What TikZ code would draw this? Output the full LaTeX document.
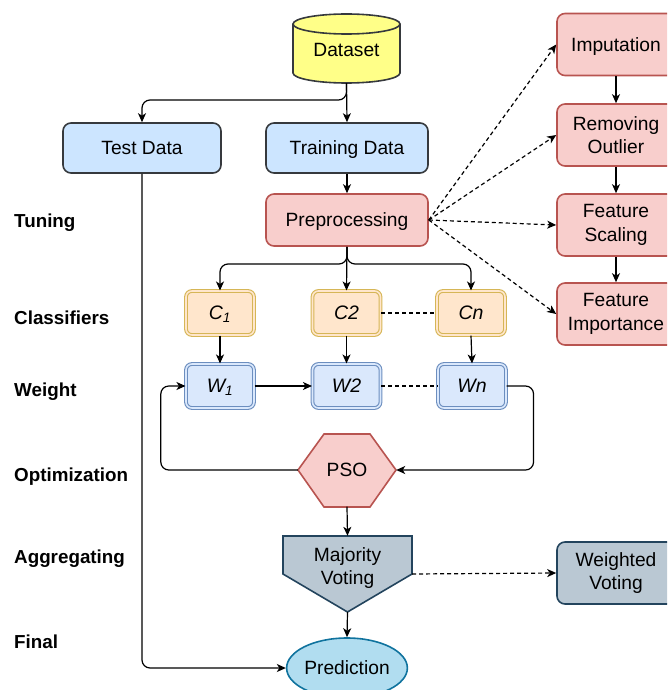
\documentclass[tikz,border=0pt]{standalone}
\usepackage{fontspec}
\setmainfont{Liberation Sans}
\usetikzlibrary{arrows.meta,shapes.geometric}
\definecolor{dsfill}{HTML}{FFFF88}
\definecolor{dkline}{HTML}{36393D}
\definecolor{bluefill}{HTML}{CCE5FF}
\definecolor{redfill}{HTML}{F8CECC}
\definecolor{redline}{HTML}{B85450}
\definecolor{cfill}{HTML}{FFE6CC}
\definecolor{cline}{HTML}{D6B656}
\definecolor{wfill}{HTML}{DAE8FC}
\definecolor{wline}{HTML}{6C8EBF}
\definecolor{mvfill}{HTML}{BAC8D3}
\definecolor{mvline}{HTML}{23445D}
\definecolor{predfill}{HTML}{B1DDF0}
\definecolor{predline}{HTML}{10739E}
\begin{document}
\begin{tikzpicture}[x=1pt,y=-1pt,
  font=\fontsize{19.2}{23.5}\selectfont,
  one/.style={text height=17.4pt, text depth=4.1pt},
  box/.style={rectangle, rounded corners=8pt, line width=1.6pt, align=center, inner sep=0pt},
  databox/.style={box, one, draw=dkline, fill=bluefill, minimum width=158pt, minimum height=50pt},
  redbox/.style={box, draw=redline, fill=redfill, minimum width=118pt, minimum height=62pt},
  cbox/.style={rectangle, one, rounded corners=6pt, draw=cline, double=cfill, double distance=1.6pt, line width=1.1pt, fill=cfill, minimum width=68pt, minimum height=44pt, inner sep=0pt, font=\fontsize{19.5}{23.5}\selectfont\itshape},
  wbox/.style={cbox, draw=wline, double=wfill, fill=wfill},
  stage/.style={anchor=base west, inner sep=0pt, font=\fontsize{18.8}{23}\selectfont\bfseries},
  tip/.style={-{Stealth[length=9pt,width=8pt,inset=2.5pt]}},
  conn/.style={line width=1.2pt, tip, rounded corners=8pt},
  dashconn/.style={line width=1.2pt, tip, dash pattern=on 4pt off 3pt},
  dashline/.style={line width=1.2pt, dash pattern=on 4pt off 3pt}
]
\useasboundingbox (0,0) rectangle (667,690);
\clip (0,0) rectangle (667,690);

% Dataset cylinder
\filldraw[fill=dsfill, draw=dkline, line width=1.6pt]
  (293,24) -- (293,73) arc[start angle=180, end angle=0, x radius=53.5, y radius=10]
  -- (400,24) arc[start angle=0, end angle=-180, x radius=53.5, y radius=10] -- cycle;
\draw[dkline, line width=1.6pt] (293,24) arc[start angle=180, end angle=0, x radius=53.5, y radius=10];
\node[inner sep=0pt, minimum width=107pt, minimum height=69pt] (ds) at (346.5,48.5) {};
\node[inner sep=0pt, one] (dstext) at (346.5,50) {Dataset};

% Data boxes
\node[databox] (test) at (142,148) {Test Data};
\node[databox, minimum width=162pt] (train) at (347,148) {Training Data};
\node[box, one, draw=redline, fill=redfill, minimum width=162pt, minimum height=52pt] (pre) at (347,220) {Preprocessing};

% Right column
\node[redbox, one] (imp) at (616,44.5) {Imputation};
\node[redbox] (rem) at (616,135) {Removing\\Outlier};
\node[redbox] (fs) at (616,225) {Feature\\Scaling};
\node[redbox] (fi) at (616,314) {Feature\\Importance};
\node[box, draw=mvline, fill=mvfill, minimum width=118pt, minimum height=62pt] (wv) at (616,573) {Weighted\\Voting};

% Classifiers
\node[cbox] (c1) at (220,313) {C\textsubscript{1}};
\node[cbox] (c2) at (346.5,313) {C2};
\node[cbox] (cn) at (471,313) {Cn};

% Weights
\node[wbox] (w1) at (220,386) {W\textsubscript{1}};
\node[wbox] (w2) at (346.5,386) {W2};
\node[wbox] (wn) at (472,386) {Wn};

% PSO hexagon
\filldraw[fill=redfill, draw=redline, line width=1.6pt]
  (298,470) -- (324,434) -- (370,434) -- (396,470) -- (370,507) -- (324,507) -- cycle;
\node[inner sep=0pt, minimum width=98pt, minimum height=73pt] (pso) at (347,470) {};
\node[inner sep=0pt, one] (psotext) at (347,470) {PSO};

% Majority voting pentagon
\filldraw[fill=mvfill, draw=mvline, line width=1.6pt]
  (283,536) -- (412,536) -- (412,574) -- (347.5,612) -- (283,574) -- cycle;
\node[inner sep=0pt, minimum width=129pt, minimum height=76pt] (mv) at (347.5,574) {};
\node[inner sep=0pt, align=center] (mvtext) at (347.5,568) {Majority\\Voting};

% Prediction
\node[ellipse, one, draw=predline, fill=predfill, line width=1.6pt, minimum width=112pt, minimum height=60pt, inner sep=0pt] (pred) at (347,668) {Prediction};

% Stage labels
\node[stage] (l1) at (14,227.6) {Tuning};
\node[stage] (l2) at (14,324.6) {Classifiers};
\node[stage] (l3) at (14,396.6) {Weight};
\node[stage] (l4) at (14,481) {Optimization};
\node[stage] (l5) at (14,563.6) {Aggregating};
\node[stage] (l6) at (14,648.2) {Final};

% Connectors
\draw[conn] (ds.south) -- (346.5,100) -| (test.north);
\draw[conn] (ds.south) -- (train.north);
\draw[conn] (train.south) -- (pre.north);
\draw[conn] (pre.south) -- (347,264) -| (c1.north);
\draw[conn] (pre.south) -- (c2.north);
\draw[conn] (pre.south) -- (347,264) -| (cn.north);
\draw[conn] (c1.south) -- (w1.north);
\draw[conn] (c2.south) -- (w2.north);
\draw[conn] (cn.south) -- (wn.north);
\draw[dashline] (c2.east) -- (cn.west);
\draw[dashline] (w2.east) -- (wn.west);
\draw[conn] (w1.east) -- (w2.west);
\draw[conn] (wn.east) -- ++(27,0) |- (pso.east);
\draw[conn] (pso.west) -- ++(-137,0) |- (w1.west);
\draw[conn] (pso.south) -- (mv.north);
\draw[conn] (mv.south) -- (pred.north);
\draw[conn] (test.south) |- (pred.west);
\draw[dashconn] (mv.east) -- (wv.west);

\draw[dashconn] (pre.east) -- (imp.west);
\draw[dashconn] (pre.east) -- (rem.west);
\draw[dashconn] (pre.east) -- (fs.west);
\draw[dashconn] (pre.east) -- (fi.west);
\draw[conn] (imp.south) -- (rem.north);
\draw[conn] (rem.south) -- (fs.north);
\draw[conn] (fs.south) -- (fi.north);
\end{tikzpicture}
\end{document}
